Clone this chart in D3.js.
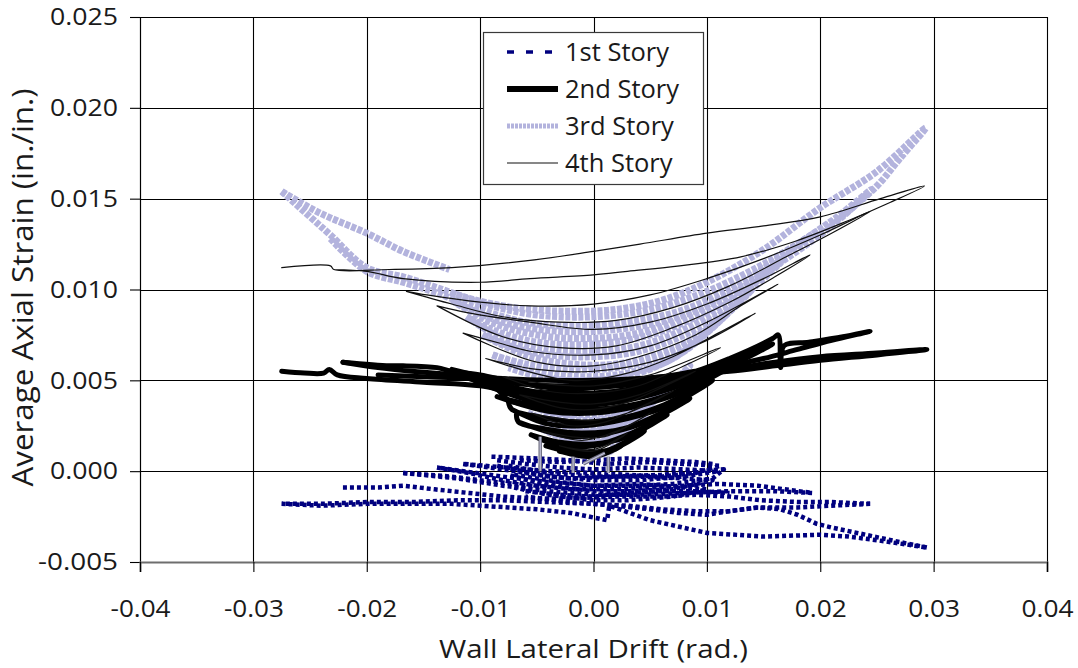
<!DOCTYPE html>
<html>
<head>
<meta charset="utf-8">
<script src="https://cdn.jsdelivr.net/npm/d3@7"></script>
<style>
  html, body { margin: 0; padding: 0; background: #ffffff; }
  svg { display: block; font-family: "Open Sans", "Noto Sans", sans-serif; }
</style>
</head>
<body>
<svg id="chart" width="1078" height="668"></svg>
<script>
// ---------- DATA ----------
const xTicks = [-0.04, -0.03, -0.02, -0.01, 0.00, 0.01, 0.02, 0.03, 0.04];
const xTickLabels = ["-0.04", "-0.03", "-0.02", "-0.01", "0.00", "0.01", "0.02", "0.03", "0.04"];
const yTicks = [-0.005, 0.000, 0.005, 0.010, 0.015, 0.020, 0.025];
const yTickLabels = ["-0.005", "0.000", "0.005", "0.010", "0.015", "0.020", "0.025"];
const seriesNames = ["1st Story", "2nd Story", "3rd Story", "4th Story"];
const xTitle = "Wall Lateral Drift (rad.)";
const yTitle = "Average Axial Strain (in./in.)";

// 1st story: [drift, strain] polylines
const story1 = [
  [[-0.009,0.0008],[-0.005,0.0007],[-0.002,0.0006],[0.001,0.0004],[0.005,0.0005],[0.008,0.0004],[0.0112,0.0003],[0.009,-0.0001],[0.006,-0.0003],[0.003,-0.0002],[0,-0.0001],[-0.004,0.0000],[-0.0115,0.0004]],
  [[-0.0115,0.0004],[-0.008,0.0001],[-0.005,-0.0002],[-0.002,-0.0004],[0.002,-0.0003],[0.006,-0.0002],[0.009,0.0000],[0.0115,0.0001],[0.0105,-0.0004],[0.007,-0.0007],[0.004,-0.0008],[0,-0.0008],[-0.004,-0.0006],[-0.008,-0.0003],[-0.0138,0.0002]],
  [[-0.0138,0.0002],[-0.011,-0.0001],[-0.008,-0.0005],[-0.005,-0.0008],[-0.002,-0.0010],[0.002,-0.0010],[0.005,-0.0009],[0.008,-0.0008],[0.011,-0.0007],[0.0145,-0.0008],[0.0193,-0.0012],[0.016,-0.0011],[0.012,-0.0011],[0.008,-0.0012],[0.004,-0.0013],[0,-0.0013],[-0.004,-0.0011],[-0.008,-0.0008],[-0.012,-0.0004],[-0.0168,-0.0001]],
  [[-0.0168,-0.0001],[-0.0145,-0.0002],[-0.0125,-0.0003],[-0.01,-0.0005],[-0.007,-0.0007],[-0.004,-0.0009]],
  [[-0.0085,0.0006],[-0.006,0.0004],[-0.003,0.0002],[0,0.0001],[0.004,0.0002],[0.008,0.0001],[0.011,0.0000],[0.008,-0.0003],[0.004,-0.0005],[0,-0.0005],[-0.004,-0.0003],[-0.0085,0.0003]],
  [[-0.0075,0.0003],[-0.004,-0.0001],[0,-0.0003],[0.004,-0.0003],[0.008,-0.0004],[0.0105,-0.0005],[0.007,-0.0010],[0.003,-0.0011],[0,-0.0011],[-0.004,-0.0008],[-0.0075,-0.0002]],
  [[-0.007,-0.0002],[-0.003,-0.0006],[0,-0.0008],[0.004,-0.0007],[0.008,-0.0009],[0.01,-0.0010],[0.007,-0.0014],[0.003,-0.0016],[0,-0.0016],[-0.004,-0.0013],[-0.007,-0.0009]],
  [[-0.0065,0.0006],[-0.003,0.0005],[0,0.0006],[0.003,0.0007],[0.006,0.0006],[0.009,0.0005],[0.0105,0.0004]],
  [[-0.006,-0.0011],[-0.003,-0.0013],[0,-0.0014],[0.003,-0.0012],[0.006,-0.0011],[0.009,-0.0011],[0.012,-0.0012]],
  [[-0.0221,-0.0009],[-0.019,-0.0009],[-0.0168,-0.0008],[-0.014,-0.0010],[-0.011,-0.0012],[-0.008,-0.0014],[-0.005,-0.0015],[-0.002,-0.0015],[0.002,-0.0014],[0.006,-0.0014],[0.009,-0.0013],[0.012,-0.0014],[0.0147,-0.0016],[0.018,-0.0017],[0.021,-0.0017],[0.0244,-0.0018]],
  [[0.0244,-0.0018],[0.021,-0.0019],[0.018,-0.0020],[0.0145,-0.0020],[0.012,-0.0022],[0.009,-0.0022],[0.006,-0.0021],[0.003,-0.0019],[0,-0.0018],[-0.004,-0.0017],[-0.008,-0.0016],[-0.012,-0.0016],[-0.016,-0.0017],[-0.02,-0.0017],[-0.024,-0.0018],[-0.0275,-0.0018]],
  [[-0.0275,-0.0018],[-0.024,-0.0019],[-0.02,-0.0018],[-0.016,-0.0018],[-0.0125,-0.0018],[-0.01,-0.0019],[-0.0075,-0.0020],[-0.005,-0.0021],[-0.002,-0.0023],[0.0012,-0.0027],[0.0014,-0.0019],[0.005,-0.0027],[0.01,-0.0034],[0.015,-0.0036],[0.02,-0.0035],[0.0225,-0.0036],[0.025,-0.0038],[0.0294,-0.0042]],
  [[0.0294,-0.0042],[0.027,-0.0039],[0.024,-0.0035],[0.021,-0.0031],[0.0197,-0.0029],[0.018,-0.0024],[0.0165,-0.0021],[0.0145,-0.0020],[0.012,-0.0022],[0.01,-0.0024],[0.0075,-0.0023],[0.005,-0.0021],[0.002,-0.0019],[-0.002,-0.0017],[-0.006,-0.0014]]
];

// 2nd story
const story2 = [
  [[-0.0275,0.0055],[-0.0255,0.0054],[-0.0238,0.0054],[-0.0233,0.0056],[-0.0226,0.0053],[-0.02,0.0051],[-0.015,0.0049],[-0.01,0.0047],[-0.0065,0.0043],[-0.003,0.0044],[0,0.0046],[0.004,0.0048],[0.0082,0.0052],[0.012,0.0056],[0.016,0.0060],[0.02,0.0063],[0.025,0.0065],[0.0294,0.0067],
   [0.025,0.0064],[0.02,0.0061],[0.016,0.0058],[0.012,0.0055],[0.008,0.0053],[0.004,0.0051],[0,0.0050],[-0.004,0.0050],[-0.008,0.0051],[-0.012,0.0053],[-0.016,0.0055],[-0.019,0.0057],[-0.0221,0.0060]],
  [[-0.0221,0.0060],[-0.018,0.0058],[-0.0168,0.0058],[-0.0138,0.0057],[-0.0125,0.0055],[-0.01,0.0053],[-0.007,0.0049],[-0.004,0.0046],[0,0.0046],[0.004,0.0049],[0.008,0.0053],[0.012,0.0062],[0.0158,0.0073],[0.0163,0.0075],[0.0165,0.0057],[0.0168,0.0069],[0.019,0.0071],[0.022,0.0074],[0.0244,0.0077],
   [0.021,0.0072],[0.018,0.0067],[0.015,0.0062],[0.012,0.0058],[0.009,0.0055],[0.006,0.0052],[0.003,0.0050],[0,0.0048],[-0.004,0.0047],[-0.008,0.0049],[-0.011,0.0051],[-0.015,0.0052],[-0.019,0.0053]],
  [[-0.0125,0.0056],[-0.01,0.0052],[-0.007,0.0046],[-0.004,0.0043],[0,0.0043],[0.004,0.0046],[0.008,0.0052],[0.012,0.0060],[0.0158,0.0070],[0.012,0.0058],[0.008,0.0050],[0.004,0.0045],[0,0.0041],[-0.004,0.0041],[-0.008,0.0045],[-0.0125,0.0056]],
  [[-0.0115,0.0052],[-0.008,0.0046],[-0.005,0.0041],[-0.001,0.0040],[0.004,0.0043],[0.008,0.0049],[0.0135,0.0063],[0.009,0.0050],[0.005,0.0043],[0,0.0039],[-0.004,0.0039],[-0.0115,0.0052]],
  [[-0.0105,0.0050],[-0.0085,0.0045],[-0.0075,0.0039],[-0.005,0.0036],[-0.001,0.0036],[0.003,0.0039],[0.008,0.0048],[0.0145,0.0067],[0.011,0.0055],[0.007,0.0046],[0.003,0.0040],[-0.001,0.0037],[-0.005,0.0038],[-0.0105,0.0050]],
  [[-0.0085,0.0041],[-0.005,0.0036],[-0.001,0.0034],[0.003,0.0036],[0.007,0.0043],[0.0125,0.0059],[0.008,0.0044],[0.004,0.0036],[0,0.0032],[-0.004,0.0033],[-0.0085,0.0041]],
  [[-0.0075,0.0038],[-0.0072,0.0034],[-0.004,0.0029],[-0.001,0.0027],[0.003,0.0030],[0.006,0.0036],[0.0105,0.0050],[0.007,0.0037],[0.003,0.0029],[-0.001,0.0025],[-0.004,0.0026],[-0.0072,0.0034]],
  [[-0.0068,0.0031],[-0.0066,0.0027],[-0.004,0.0023],[-0.001,0.0021],[0.003,0.0024],[0.0085,0.0040],[0.005,0.0028],[0.002,0.0022],[-0.002,0.0019],[-0.0066,0.0027]],
  [[-0.0055,0.0020],[-0.003,0.0016],[0,0.0015],[0.003,0.0019],[0.0065,0.0031],[0.003,0.0020],[0,0.0014],[-0.003,0.0014],[-0.0055,0.0020]],
  [[-0.0042,0.0014],[-0.002,0.0011],[0.001,0.0011],[0.0045,0.0022],[0.002,0.0013],[-0.001,0.0010],[-0.0042,0.0014]],
  [[-0.003,0.0011],[0,0.0009],[0.0025,0.0014],[0,0.0008],[-0.003,0.0011]]
];

// 3rd story
const story3 = [
  [[-0.0275,0.0154],[-0.025,0.0140],[-0.0232,0.0130],[-0.02,0.0112],[-0.0168,0.0107],[-0.0138,0.0101],[-0.0109,0.0095],[-0.008,0.0091],[-0.0056,0.0089],[-0.002,0.0088],[0.002,0.0089],[0.006,0.0094],[0.01,0.0104],[0.015,0.0122],[0.02,0.0145],[0.025,0.0165],[0.0293,0.0189],
   [0.027,0.0172],[0.025,0.0157],[0.022,0.0141],[0.02,0.0133],[0.015,0.0114],[0.01,0.0099],[0.005,0.0089],[0,0.0085],[-0.005,0.0086],[-0.009,0.0091],[-0.0125,0.0098]],
  [[-0.0275,0.0154],[-0.0241,0.0142],[-0.02,0.0131],[-0.0168,0.0121],[-0.0127,0.0111]],
  [[-0.0232,0.0128],[-0.02,0.0110],[-0.0168,0.0104],[-0.0138,0.0098],[-0.01,0.0089],[-0.006,0.0082],[-0.002,0.0080],[0.003,0.0082],[0.008,0.0089],[0.013,0.0104],[0.018,0.0125],[0.0215,0.0140],[0.0245,0.0155],
   [0.021,0.0135],[0.017,0.0117],[0.012,0.0097],[0.007,0.0084],[0.002,0.0078],[-0.003,0.0077],[-0.008,0.0082],[-0.0125,0.0094]],
  [[-0.0125,0.0094],[-0.009,0.0082],[-0.005,0.0075],[-0.001,0.0073],[0.004,0.0076],[0.009,0.0088],[0.014,0.0107],[0.0195,0.0131],
   [0.015,0.0109],[0.01,0.0088],[0.005,0.0075],[0,0.0070],[-0.005,0.0071],[-0.009,0.0078],[-0.0112,0.0085]],
  [[-0.0112,0.0085],[-0.008,0.0073],[-0.004,0.0067],[0,0.0066],[0.004,0.0069],[0.008,0.0078],[0.012,0.0093],[0.0165,0.0115],
   [0.012,0.0090],[0.008,0.0075],[0.004,0.0066],[0,0.0063],[-0.004,0.0064],[-0.007,0.0068],[-0.0098,0.0075]],
  [[-0.0098,0.0075],[-0.006,0.0064],[-0.002,0.0059],[0.002,0.0059],[0.006,0.0065],[0.01,0.0078],[0.014,0.0100],
   [0.01,0.0077],[0.006,0.0063],[0.002,0.0057],[-0.002,0.0056],[-0.006,0.0059],[-0.0089,0.0064]],
  [[-0.0089,0.0064],[-0.005,0.0055],[-0.001,0.0052],[0.003,0.0054],[0.007,0.0062],[0.012,0.0088],
   [0.008,0.0066],[0.004,0.0054],[0,0.0050],[-0.004,0.0051],[-0.0075,0.0057]],
  [[-0.0068,0.0040],[-0.004,0.0033],[-0.001,0.0031],[0.003,0.0034],[0.006,0.0042],[0.0085,0.0058],
   [0.006,0.0043],[0.003,0.0032],[0,0.0028],[-0.003,0.0030],[-0.0068,0.0040]],
  [[-0.0058,0.0032],[-0.003,0.0026],[0,0.0024],[0.003,0.0028],[0.0065,0.0045],
   [0.004,0.0032],[0.001,0.0023],[-0.002,0.0022],[-0.0058,0.0032]],
  [[-0.0048,0.0024],[-0.002,0.0018],[0.001,0.0017],[0.0048,0.0033],[0.002,0.0019],[-0.001,0.0015],[-0.0048,0.0024]],
  [[-0.0038,0.0016],[-0.001,0.0011],[0.0015,0.0011],[0.003,0.0021],[0.001,0.0010],[-0.0015,0.0009],[-0.0038,0.0016]]
];

// 4th story
const story4 = [
  [[-0.0275,0.0112],[-0.0232,0.0113],[-0.0229,0.0111],[-0.018,0.0111],[-0.0125,0.0112],[-0.0056,0.0116],[0,0.0121],[0.0041,0.0125],[0.01,0.0131],[0.015,0.0135],[0.02,0.0140],[0.0253,0.0150],[0.0292,0.0157],
   [0.0262,0.0148],[0.0225,0.0138],[0.018,0.0127],[0.013,0.0118],[0.0076,0.0113],[0.003,0.0110],[0,0.0108],[-0.0056,0.0106],[-0.01,0.0104],[-0.0168,0.0106],[-0.02,0.0110],[-0.0229,0.0111]],
  [[-0.0165,0.0099],[-0.0147,0.0097],[-0.01,0.0093],[-0.0056,0.0091],[0,0.0092],[0.005,0.0097],[0.01,0.0106],[0.015,0.0117],[0.02,0.0130],[0.0244,0.0143],
   [0.021,0.0131],[0.017,0.0118],[0.012,0.0102],[0.007,0.0090],[0.002,0.0083],[-0.003,0.0082],[-0.008,0.0085],[-0.0125,0.0092],[-0.0165,0.0099]],
  [[-0.0138,0.0091],[-0.0109,0.0087],[-0.0056,0.0082],[0,0.0078],[0.005,0.0082],[0.01,0.0092],[0.015,0.0106],[0.0191,0.0119],
   [0.016,0.0107],[0.012,0.0093],[0.007,0.0079],[0.002,0.0069],[-0.003,0.0068],[-0.008,0.0074],[-0.0138,0.0091]],
  [[-0.0115,0.0076],[-0.008,0.0070],[-0.0056,0.0066],[0,0.0064],[0.005,0.0069],[0.01,0.0082],[0.0163,0.0103],
   [0.013,0.0091],[0.009,0.0075],[0.004,0.0063],[0,0.0058],[-0.005,0.0060],[-0.0115,0.0076]],
  [[-0.0095,0.0062],[-0.005,0.0056],[0,0.0055],[0.005,0.0060],[0.01,0.0072],[0.0143,0.0087],
   [0.011,0.0076],[0.007,0.0063],[0.003,0.0054],[-0.002,0.0050],[-0.0095,0.0062]],
  [[-0.008,0.0052],[-0.004,0.0048],[0,0.0047],[0.005,0.0053],[0.0112,0.0068],
   [0.008,0.0058],[0.004,0.0047],[0,0.0043],[-0.004,0.0044],[-0.008,0.0052]],
  [[-0.0065,0.0042],[-0.003,0.0038],[0,0.0037],[0.004,0.0042],[0.009,0.0055],
   [0.006,0.0046],[0.003,0.0038],[0,0.0034],[-0.003,0.0035],[-0.0065,0.0042]],
  [[-0.0055,0.0032],[-0.003,0.0029],[0,0.0028],[0.003,0.0032],[0.007,0.0044],
   [0.004,0.0035],[0.001,0.0027],[-0.002,0.0025],[-0.0055,0.0032]],
  [[-0.0045,0.0022],[-0.002,0.0019],[0.001,0.0019],[0.005,0.0032],[0.002,0.0022],[-0.001,0.0017],[-0.0045,0.0022]],
  [[-0.003,0.0014],[0,0.0012],[0.003,0.0021],[0,0.0011],[-0.003,0.0014]]
];

// short vertical offset jumps near zero drift (grey)
const offsetJumps = [
  [[-0.0047,0.0019],[-0.0047,0.0000]],
  [[-0.0018,0.0008],[-0.0018,-0.0001]],
  [[0.0013,0.0008],[0.0013,-0.0001]],
  [[-0.0009,0.0004],[0.0010,0.0010]]
];

// ---------- CHART ----------
const svg = d3.select("#chart");
const x = d3.scaleLinear().domain([-0.04, 0.04]).range([140, 1047]);
const y = d3.scaleLinear().domain([-0.005, 0.025]).range([562, 17]);
const TICK_FONT = 24;
const LEGEND_FONT = 25.5;
const textColor = "#1a1a1a";

// gridlines
const grid = svg.append("g");
grid.selectAll("line.v").data(xTicks).join("line")
  .attr("x1", d => Math.round(x(d)) + 0.5).attr("x2", d => Math.round(x(d)) + 0.5)
  .attr("y1", y(0.025)).attr("y2", y(-0.005))
  .attr("stroke", "#000").attr("stroke-width", 1.1);
grid.selectAll("line.h").data(yTicks.filter(d => d !== -0.005)).join("line")
  .attr("x1", x(-0.04)).attr("x2", x(0.04))
  .attr("y1", d => Math.round(y(d)) + 0.5).attr("y2", d => Math.round(y(d)) + 0.5)
  .attr("stroke", "#000").attr("stroke-width", 1.1);

// axes
const yAxis = svg.append("g").attr("transform", `translate(${x(-0.04)},0)`)
  .call(d3.axisLeft(y).tickValues(yTicks).tickFormat((d, i) => yTickLabels[i]).tickSize(10).tickPadding(12));
const xAxis = svg.append("g").attr("transform", `translate(0,${y(-0.005)})`)
  .call(d3.axisBottom(x).tickValues(xTicks).tickFormat((d, i) => xTickLabels[i]).tickSize(10).tickPadding(28));
[yAxis, xAxis].forEach(a => {
  a.selectAll("text").attr("font-size", TICK_FONT).attr("fill", textColor)
    .attr("font-family", '"Open Sans", sans-serif')
    .attr("lengthAdjust", "spacingAndGlyphs");
  a.selectAll(".tick line").attr("stroke", "#000").attr("stroke-width", 1.1);
});
// match the wide tick glyphs of the original
yAxis.selectAll("text").attr("textLength", (d, i) => yTickLabels[i].length === 6 ? 80 : 68);
xAxis.selectAll("text").attr("textLength", (d, i) => xTickLabels[i].length === 5 ? 60 : 52);
yAxis.select(".domain").attr("stroke", "#000").attr("stroke-width", 1.1);
xAxis.select(".domain").attr("stroke", "#6e6e6e").attr("stroke-width", 2);

// series
const lineLinear = d3.line().x(d => x(d[0])).y(d => y(d[1]));
const lineSmooth = d3.line().x(d => x(d[0])).y(d => y(d[1])).curve(d3.curveCatmullRom.alpha(0.5));

const styles = {
  s1: { data: story1, gen: lineLinear, color: "#00007f", width: 4.5, dash: "4,3", cap: "butt" },
  s2: { data: story2, gen: lineSmooth, color: "#000000", width: 5, dash: null, cap: "round" },
  s3: { data: story3, gen: lineSmooth, color: "#b3b3dd", width: 7, dash: "5,1.5", cap: "butt" },
  s4: { data: story4, gen: lineSmooth, color: "#111111", width: 1.2, dash: null, cap: "round" }
};
// drawing order (later on top)
["s1", "s3", "s2", "s4"].forEach(k => {
  const s = styles[k];
  svg.append("g").attr("class", "series " + k)
    .selectAll("path").data(s.data).join("path")
    .attr("d", s.gen)
    .attr("fill", "none")
    .attr("stroke", s.color)
    .attr("stroke-width", s.width)
    .attr("stroke-linejoin", "round")
    .attr("stroke-linecap", s.cap)
    .attr("stroke-dasharray", s.dash);
});

const jumps = svg.append("g");
jumps.selectAll("path.o").data(offsetJumps).join("path")
  .attr("d", lineLinear).attr("fill", "none").attr("stroke", "#6f6f80").attr("stroke-width", 3.5);
jumps.selectAll("path.i").data(offsetJumps).join("path")
  .attr("d", lineLinear).attr("fill", "none").attr("stroke", "#c4c4de").attr("stroke-width", 1.2);

// axis titles
svg.append("text").attr("x", (x(-0.04) + x(0.04)) / 2).attr("y", 658)
  .attr("text-anchor", "middle").attr("font-size", 25).attr("fill", textColor)
  .attr("textLength", 309).attr("lengthAdjust", "spacingAndGlyphs").text(xTitle);
svg.append("text").attr("transform", `translate(33,${(y(-0.005) + y(0.025)) / 2 - 2}) rotate(-90)`)
  .attr("text-anchor", "middle").attr("font-size", 30).attr("fill", textColor)
  .attr("textLength", 398).attr("lengthAdjust", "spacingAndGlyphs").text(yTitle);

// legend
const lg = svg.append("g");
lg.append("rect").attr("x", 483.5).attr("y", 32.5).attr("width", 220).attr("height", 152)
  .attr("fill", "#fff").attr("stroke", "#3a3a3a").attr("stroke-width", 1.2);
const legendRows = [52, 89, 126, 163];
const legendStyles = [
  { color: "#00007f", width: 3.5, dash: "7,12" },
  { color: "#000000", width: 6, dash: null },
  { color: "#b3b3dd", width: 5, dash: "3,1" },
  { color: "#111111", width: 1.1, dash: null }
];
seriesNames.forEach((name, i) => {
  const ls = legendStyles[i];
  lg.append("line").attr("x1", 507).attr("x2", 558).attr("y1", legendRows[i]).attr("y2", legendRows[i])
    .attr("stroke", ls.color).attr("stroke-width", ls.width).attr("stroke-dasharray", ls.dash);
  lg.append("text").attr("x", 565).attr("y", legendRows[i] + 9)
    .attr("font-size", LEGEND_FONT).attr("fill", textColor).text(name);
});
</script>
</body>
</html>
